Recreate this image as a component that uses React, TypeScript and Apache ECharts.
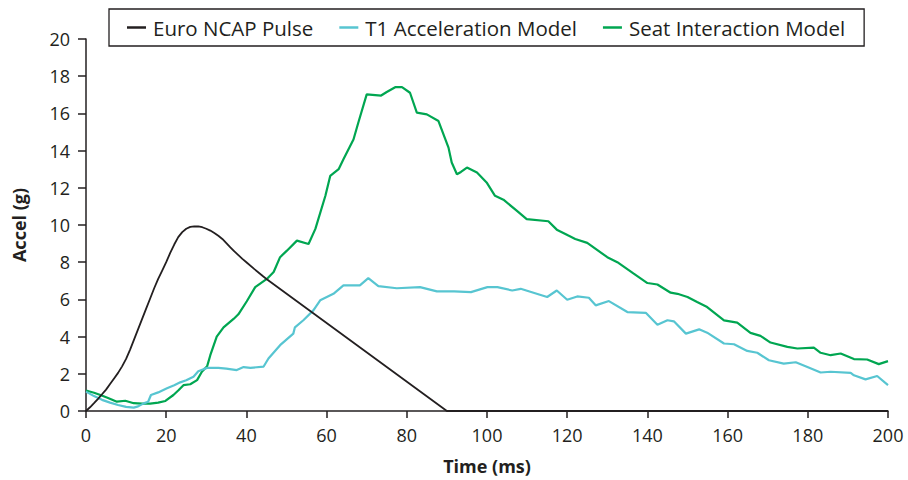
import React, { useEffect, useRef } from "react";
import * as echarts from "echarts";

const seriesNames = ["Euro NCAP Pulse", "T1 Acceleration Model", "Seat Interaction Model"];
const xTicks = [0, 20, 40, 60, 80, 100, 120, 140, 160, 180, 200];
const yTicks = [0, 2, 4, 6, 8, 10, 12, 14, 16, 18, 20];

const euroNcapPulse: [number, number][] = [
  [0, 0], [1, 0.2], [2, 0.42], [3, 0.65], [4, 0.9], [5, 1.15], [6, 1.45], [7, 1.75], [8, 2.05],
  [9, 2.4], [10, 2.8], [11, 3.3], [12, 3.85], [13, 4.4], [14, 4.95], [15, 5.5], [16, 6.05],
  [17, 6.6], [18, 7.1], [19, 7.55], [20, 8.0], [21, 8.5], [22, 8.95], [23, 9.35], [24, 9.62],
  [25, 9.8], [26, 9.9], [27, 9.93], [28, 9.92], [29, 9.88], [30, 9.8], [31, 9.7], [32, 9.57],
  [33, 9.42], [34, 9.25], [35, 9.03], [36, 8.8], [37, 8.58], [38, 8.38], [39, 8.18],
  [40, 8.0], [42, 7.63], [44, 7.27], [45, 7.1], [90, 0], [200, 0]
];

const t1AccelerationModel: [number, number][] = [
  [0, 1.04], [2, 0.8], [4, 0.6], [6, 0.45], [8, 0.32], [10, 0.22], [11.9, 0.18], [13, 0.25],
  [14.4, 0.41], [15.5, 0.5], [16.2, 0.86], [18, 1.0], [20.2, 1.22], [22, 1.38], [23.5, 1.54],
  [25, 1.65], [26.8, 1.84], [28, 2.14], [29.3, 2.25], [30.2, 2.32], [33, 2.32], [35, 2.28],
  [37.6, 2.2], [39.3, 2.36], [41, 2.32], [44.3, 2.39], [45.5, 2.82], [48.4, 3.54], [51.7, 4.16],
  [52.1, 4.5], [54.2, 4.88], [56.7, 5.41], [58.4, 5.95], [61.7, 6.3], [64.2, 6.75], [68.3, 6.75],
  [70.4, 7.14], [72.9, 6.71], [77.5, 6.6], [83.3, 6.66], [87.5, 6.43], [91.8, 6.43], [96, 6.39],
  [100.1, 6.66], [102.6, 6.66], [106.3, 6.48], [108.4, 6.57], [115, 6.13], [117.4, 6.48],
  [120, 5.98], [122.5, 6.16], [125.4, 6.09], [127.1, 5.68], [130.4, 5.91], [135, 5.32],
  [139.6, 5.28], [142.5, 4.64], [145, 4.88], [146.6, 4.82], [149.6, 4.16], [152.9, 4.39],
  [154.9, 4.21], [159.1, 3.63], [161.6, 3.59], [164.9, 3.23], [167.4, 3.13], [170.3, 2.73],
  [174, 2.55], [177, 2.62], [179.9, 2.37], [183.2, 2.07], [185.7, 2.11], [190.7, 2.05],
  [191.5, 1.92], [194.4, 1.7], [197.3, 1.88], [200, 1.39]
];

const seatInteractionModel: [number, number][] = [
  [0, 1.1], [2, 0.98], [3.6, 0.86], [5.5, 0.7], [7.7, 0.5], [9.8, 0.55], [11.9, 0.42],
  [14, 0.4], [16, 0.4], [18, 0.45], [19.8, 0.54], [21.8, 0.86], [23, 1.1], [24.3, 1.39],
  [26, 1.44], [27.7, 1.66], [28.9, 2.11], [30.2, 2.4], [31, 3.0], [32.6, 4.0], [34.3, 4.5],
  [36.8, 4.95], [38, 5.2], [40.1, 5.9], [42.2, 6.66], [45.1, 7.1], [46.8, 7.47], [48.4, 8.27],
  [50.1, 8.62], [52.6, 9.16], [55.5, 8.98], [57.2, 9.79], [59.7, 11.57], [60.9, 12.64],
  [63, 13.0], [64.2, 13.54], [66.7, 14.6], [67.9, 15.5], [70, 17.02], [73.6, 16.96],
  [75, 17.15], [77.1, 17.41], [78.8, 17.41], [80.8, 17.11], [82.5, 16.04], [85, 15.95],
  [87.9, 15.59], [90.4, 14.16], [91.2, 13.36], [92.5, 12.73], [93.5, 12.85], [95, 13.09],
  [97.5, 12.82], [99.9, 12.29], [102, 11.57], [104.1, 11.36], [107.4, 10.77], [109.9, 10.32],
  [115.3, 10.2], [117.4, 9.75], [120.3, 9.43], [122, 9.25], [125, 9.04], [130, 8.27],
  [132.5, 8.0], [136.5, 7.4], [140, 6.88], [142.5, 6.8], [145.8, 6.36], [147.5, 6.3],
  [150, 6.13], [152.4, 5.86], [154.9, 5.59], [159.1, 4.87], [162.4, 4.75], [165.7, 4.2],
  [168.2, 4.04], [170.7, 3.68], [174.9, 3.45], [177.4, 3.36], [181.5, 3.41], [183.2, 3.13],
  [185.7, 3.0], [188.2, 3.09], [191.5, 2.79], [194.8, 2.77], [197.7, 2.52], [200, 2.68]
];

const colors = ["#231f20", "#57c5d1", "#00a651"];

export default function App() {
  const ref = useRef<HTMLDivElement>(null);
  useEffect(() => {
    document.body.style.margin = "0";
    if (!ref.current) return;
    const chart = echarts.init(ref.current, undefined, { renderer: "svg" });
    const font = "'Open Sans', 'Noto Sans', sans-serif";
    const textColor = "#231f20";
    chart.setOption({
      animation: false,
      backgroundColor: "#ffffff",
      textStyle: { fontFamily: font, color: textColor },
      grid: { left: 86, right: 20, top: 39, bottom: 67, containLabel: false },
      legend: {
        data: seriesNames,
        left: 109,
        top: 9,
        borderColor: "#231f20",
        borderWidth: 1.3,
        padding: [8, 19, 8, 18],
        itemGap: 26,
        itemWidth: 19,
        itemHeight: 2.5,
        icon: "rect",
        textStyle: { fontFamily: font, fontSize: 20.5, color: textColor, padding: [0, 0, 0, 2] }
      },
      xAxis: {
        type: "value",
        min: xTicks[0],
        max: xTicks[xTicks.length - 1],
        interval: 20,
        name: "Time (ms)",
        nameLocation: "middle",
        nameGap: 46,
        nameTextStyle: { fontFamily: font, fontSize: 18, fontWeight: "bold", color: textColor },
        axisLine: { show: true, lineStyle: { color: "#231f20", width: 1.5 } },
        axisTick: { show: true, length: 7, lineStyle: { color: "#231f20", width: 1.5 } },
        axisLabel: { fontFamily: font, fontSize: 18, color: textColor, margin: 15 },
        splitLine: { show: false }
      },
      yAxis: {
        type: "value",
        min: yTicks[0],
        max: yTicks[yTicks.length - 1],
        interval: 2,
        name: "Accel (g)",
        nameLocation: "middle",
        nameGap: 58,
        nameRotate: 90,
        nameTextStyle: { fontFamily: font, fontSize: 18, fontWeight: "bold", color: textColor },
        axisLine: { show: true, lineStyle: { color: "#231f20", width: 1.5 } },
        axisTick: { show: true, length: 8, lineStyle: { color: "#231f20", width: 1.5 } },
        axisLabel: { fontFamily: font, fontSize: 18, color: textColor, margin: 16 },
        splitLine: { show: false }
      },
      series: [
        { name: seriesNames[0], data: euroNcapPulse, color: colors[0] },
        { name: seriesNames[1], data: t1AccelerationModel, color: colors[1] },
        { name: seriesNames[2], data: seatInteractionModel, color: colors[2] }
      ].map((s, i) => ({
        type: "line",
        name: s.name,
        data: s.data,
        showSymbol: false,
        symbol: "none",
        smooth: false,
        itemStyle: { color: s.color },
        lineStyle: { color: s.color, width: i === 0 ? 1.8 : 2.2 },
        z: 3 - i
      }))
    });
    return () => chart.dispose();
  }, []);
  return <div ref={ref} style={{ width: 908, height: 480 }} />;
}
